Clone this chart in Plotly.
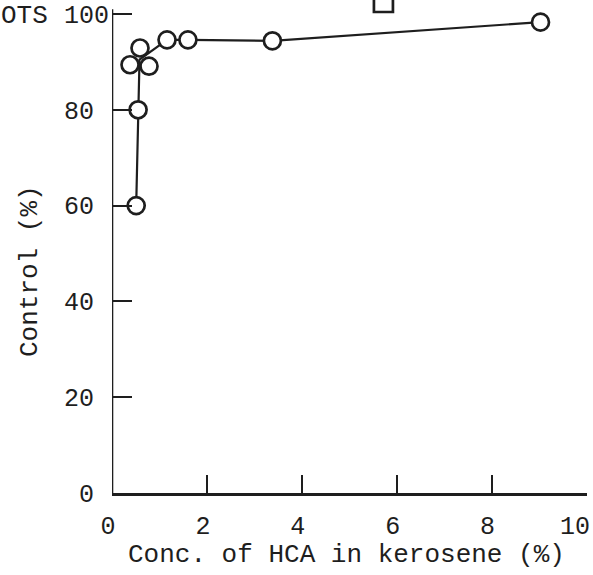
import plotly.graph_objects as go

# Data
conc = [0.51, 0.55, 0.38, 0.78, 0.59, 1.16, 1.60, 3.38, 9.03]
control = [60, 80, 89.4, 89.1, 92.9, 94.6, 94.6, 94.4, 98.3]
line_conc = [0.51, 0.55, 0.58, 1.16, 1.60, 3.38, 9.03]
line_control = [60, 80, 90.5, 94.6, 94.6, 94.4, 98.3]
square_conc = [5.72]
square_control = [102.4]

x_ticks = [0, 2, 4, 6, 8, 10]
x_labels = ["0", "2", "4", "6", "8", "10"]
y_ticks = [0, 20, 40, 60, 80, 100]
y_labels = ["0", "20", "40", "60", "80", "100"]

FONT = "Liberation Mono"
INK = "#1e1e1e"
PAD = "<span style='color:rgba(0,0,0,0)'>0</span>"  # invisible typewriter cell

# typewriter-style alignment: short labels padded by one blank cell
x_ticktext = [t + PAD if t == "10" else t for t in x_labels]
y_ticktext = [t if len(t) == 3 else t + PAD for t in y_labels]

W, H = 593, 575
L, R, T, B = 112, 6, 0, 82
pw, ph = W - L - R, H - T - B
Y_TOP = ph / 4.79  # keeps 100 at the same height as the reference

fig = go.Figure()
fig.add_trace(go.Scatter(x=line_conc, y=line_control, mode="lines",
                         line=dict(color=INK, width=2.2), hoverinfo="skip"))
fig.add_trace(go.Scatter(x=conc, y=control, mode="markers",
                         marker=dict(symbol="circle", size=17, color="white",
                                     line=dict(color=INK, width=2.7))))
fig.add_trace(go.Scatter(x=square_conc, y=square_control, mode="markers",
                         marker=dict(symbol="square", size=19, color="white",
                                     line=dict(color=INK, width=2.7))))

def px(xp):
    return (xp - L) / pw

def py(yp):
    return (H - B - yp) / ph

fig.update_layout(
    width=W, height=H,
    margin=dict(l=L, r=R, t=T, b=B),
    paper_bgcolor="white", plot_bgcolor="white",
    showlegend=False,
    font=dict(family=FONT, color=INK, size=25),
    xaxis=dict(range=[0, 10.01], tickvals=x_ticks, ticktext=x_ticktext,
               showline=True, linecolor=INK, linewidth=2.6, mirror=False,
               ticks="inside", ticklen=18, tickwidth=2.2, tickcolor=INK,
               showgrid=False, zeroline=False, ticklabelstandoff=8,
               ticklabelshift=-4, ticklabeloverflow="allow", automargin=False,
               tickfont=dict(family=FONT, size=25, color=INK)),
    yaxis=dict(range=[0, Y_TOP], tickvals=y_ticks, ticktext=y_ticktext,
               showline=False,
               ticks="inside", ticklen=20, tickwidth=2.2, tickcolor=INK,
               showgrid=False, zeroline=False, ticklabelstandoff=2,
               ticklabeloverflow="allow", automargin=False,
               tickfont=dict(family=FONT, size=25, color=INK)),
    shapes=[
        dict(type="line", xref="x", yref="y", x0=0, x1=0, y0=0, y1=101,
             line=dict(color=INK, width=2.6), layer="above"),
    ],
    annotations=[
        dict(text="Conc. of HCA in kerosene (%)", xref="paper", yref="paper",
             x=px(346), y=py(555), xanchor="center", yanchor="middle",
             showarrow=False, font=dict(family=FONT, size=26, color=INK)),
        dict(text="Control (%)", xref="paper", yref="paper",
             x=px(30), y=py(271), xanchor="center", yanchor="middle",
             textangle=-90, showarrow=False,
             font=dict(family=FONT, size=26, color=INK)),
        dict(text="OTS", xref="paper", yref="paper",
             x=px(-1), y=py(16), xanchor="left", yanchor="middle",
             showarrow=False, font=dict(family=FONT, size=26, color=INK)),
    ],
)

fig.write_html("out.html",
               config={"displayModeBar": False},
               post_script="document.body.style.margin='0';"
                           "document.body.style.overflow='hidden';")
